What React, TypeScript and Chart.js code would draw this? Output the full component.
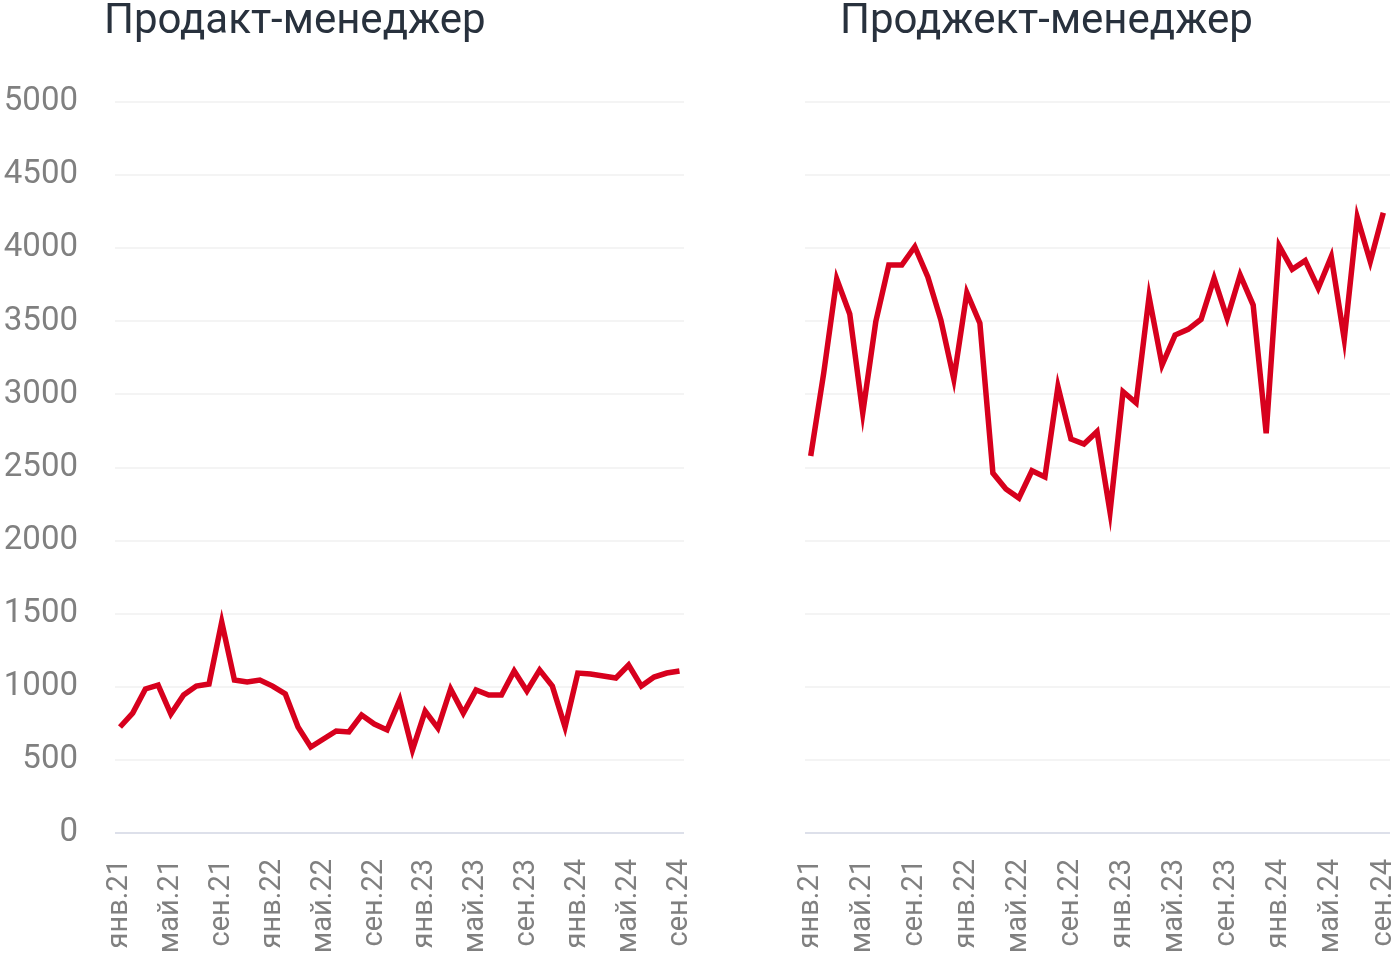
import React, { useEffect, useRef } from "react";
import { Chart, registerables } from "chart.js";

Chart.register(...registerables);

const months: string[] = [
  "янв.21", "фев.21", "мар.21", "апр.21", "май.21", "июн.21", "июл.21", "авг.21", "сен.21", "окт.21", "ноя.21", "дек.21",
  "янв.22", "фев.22", "мар.22", "апр.22", "май.22", "июн.22", "июл.22", "авг.22", "сен.22", "окт.22", "ноя.22", "дек.22",
  "янв.23", "фев.23", "мар.23", "апр.23", "май.23", "июн.23", "июл.23", "авг.23", "сен.23", "окт.23", "ноя.23", "дек.23",
  "янв.24", "фев.24", "мар.24", "апр.24", "май.24", "июн.24", "июл.24", "авг.24", "сен.24",
];

const tickIndices: number[] = [0, 4, 8, 12, 16, 20, 24, 28, 32, 36, 40, 44];

const yTicks: number[] = [0, 500, 1000, 1500, 2000, 2500, 3000, 3500, 4000, 4500, 5000];

const productManager: number[] = [
  725, 820, 985, 1012, 814, 944, 1005, 1019, 1443, 1046, 1033, 1046,
  1005, 951, 725, 588, 643, 698, 691, 807, 745, 705, 910, 568,
  834, 718, 985, 820, 978, 944, 944, 1108, 971, 1115, 1005, 725,
  1094, 1088, 1074, 1060, 1149, 1005, 1067, 1094, 1108,
];

const projectManager: number[] = [
  2579, 3146, 3789, 3550, 2873, 3497, 3885, 3885, 4010, 3803, 3509, 3105,
  3696, 3488, 2462, 2353, 2291, 2478, 2435, 3053, 2695, 2661, 2745, 2196,
  3019, 2943, 3668, 3201, 3406, 3445, 3514, 3794, 3520, 3817, 3611, 2734,
  4015, 3856, 3915, 3726, 3942, 3377, 4211, 3908, 4243,
];

const titles: string[] = ["Продакт-менеджер", "Проджект-менеджер"];

const LINE_COLOR = "#d7001d";
const TICK_COLOR = "#808080";
const FONT = "Roboto";

type PanelProps = {
  values: number[];
  canvasLeft: number;
  canvasWidth: number;
  yAxisWidth: number;
  padRight: number;
  xMin: number;
  xMax: number;
  showY: boolean;
};

function Panel(props: PanelProps) {
  const ref = useRef<HTMLCanvasElement | null>(null);
  useEffect(() => {
    if (!ref.current) return;
    const chart = new Chart(ref.current, {
      type: "line",
      data: {
        datasets: [
          {
            data: props.values.map((v, i) => ({ x: i, y: v })),
            borderColor: LINE_COLOR,
            backgroundColor: LINE_COLOR,
            borderWidth: 5.5,
            pointRadius: 0,
            tension: 0,
            fill: false,
          },
        ],
      },
      options: {
        responsive: false,
        animation: false,
        layout: { padding: { top: 102, right: props.padRight, left: 0, bottom: 0 } },
        plugins: { legend: { display: false }, tooltip: { enabled: false }, title: { display: false } },
        scales: {
          x: {
            type: "linear",
            min: props.xMin,
            max: props.xMax,
            grid: { display: false },
            border: { display: false },
            afterBuildTicks: (scale: any) => {
              scale.ticks = tickIndices.map((v) => ({ value: v }));
            },
            afterFit: (scale: any) => {
              scale.height = 123;
              scale.paddingLeft = 0;
              scale.paddingRight = 0;
            },
            ticks: {
              autoSkip: false,
              maxRotation: 90,
              minRotation: 90,
              padding: 18,
              color: TICK_COLOR,
              font: { family: FONT, size: 29 },
              callback: (value: any) => months[Number(value)] ?? "",
            },
          },
          y: {
            min: 0,
            max: 5000,
            afterBuildTicks: (scale: any) => {
              scale.ticks = yTicks.map((v) => ({ value: v }));
            },
            afterFit: (scale: any) => {
              scale.width = props.yAxisWidth;
              scale.paddingTop = 0;
              scale.paddingBottom = 0;
            },
            border: { display: false },
            grid: {
              drawTicks: false,
              lineWidth: 2,
              color: (ctx: any) => (ctx.tick && ctx.tick.value === 0 ? "#dde0ea" : "#f4f4f4"),
            },
            ticks: {
              display: props.showY,
              padding: 37,
              color: TICK_COLOR,
              font: { family: FONT, size: 33 },
              callback: (value: any) => String(value),
            },
          },
        },
      },
    } as any);
    return () => chart.destroy();
  }, []);
  return (
    <canvas
      ref={ref}
      width={props.canvasWidth}
      height={956}
      style={{ position: "absolute", left: props.canvasLeft, top: 0, width: props.canvasWidth, height: 956 }}
    />
  );
}

export default function App() {
  const titleStyle: React.CSSProperties = {
    position: "absolute",
    top: -2,
    fontFamily: FONT,
    fontSize: 42,
    lineHeight: 1,
    color: "#28313d",
    whiteSpace: "nowrap",
  };
  return (
    <div style={{ position: "fixed", left: 0, top: 0, width: 1395, height: 956, overflow: "hidden", background: "#fff" }}>
      <Panel values={productManager} canvasLeft={0} canvasWidth={700} yAxisWidth={115} padRight={16} xMin={-0.393} xMax={44.354} showY={true} />
      <Panel values={projectManager} canvasLeft={700} canvasWidth={720} yAxisWidth={105} padRight={30} xMin={-0.438} xMax={44.515} showY={false} />
      <div style={{ ...titleStyle, left: 104 }}>{titles[0]}</div>
      <div style={{ ...titleStyle, left: 840 }}>{titles[1]}</div>
    </div>
  );
}
